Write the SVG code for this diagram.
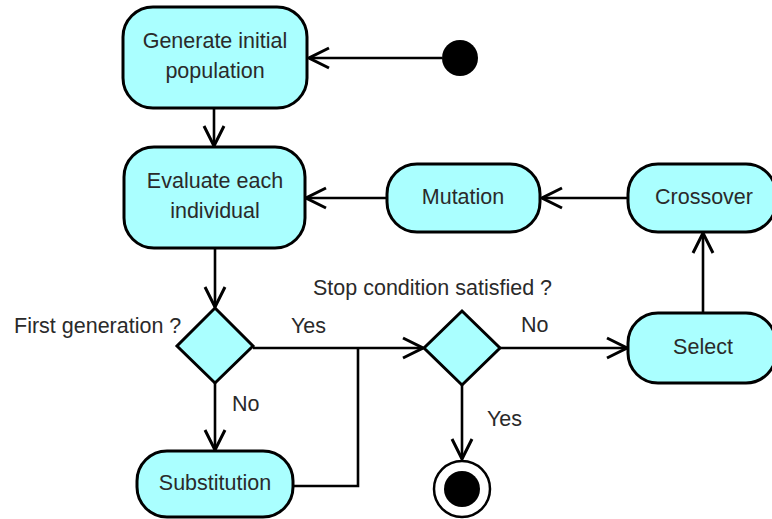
<svg xmlns="http://www.w3.org/2000/svg" width="772" height="519" viewBox="0 0 772 519">
<defs>
<marker id="arr" viewBox="0 0 24 24" markerWidth="24" markerHeight="24" refX="22" refY="12" orient="auto" markerUnits="userSpaceOnUse">
<path d="M2,2 L22,12 L2,22" fill="none" stroke="#000" stroke-width="3"/>
</marker>
<style>
.n{fill:#aaffff;stroke:#000;stroke-width:3}
.t{font-family:"Liberation Sans",Arial,sans-serif;font-size:21.5px;fill:#2a2a2a}
.c{text-anchor:middle}
.e{fill:none;stroke:#000;stroke-width:2.6}
</style>
</defs>
<rect width="772" height="519" fill="#fff"/>
<g id="connectors">
<path class="e" d="M442,58 L309,58" marker-end="url(#arr)"/>
<path class="e" d="M214,108 L214,146" marker-end="url(#arr)"/>
<path class="e" d="M628,198 L542,198" marker-end="url(#arr)"/>
<path class="e" d="M387,198 L306,198" marker-end="url(#arr)"/>
<path class="e" d="M215,248 L215,307" marker-end="url(#arr)"/>
<path class="e" d="M703,313 L703,233" marker-end="url(#arr)"/>
<path class="e" d="M253,348 L423,348" marker-end="url(#arr)"/>
<path class="e" d="M293,486 L358,486 L358,348"/>
<path class="e" d="M500,348 L627,348" marker-end="url(#arr)"/>
<path class="e" d="M215,383 L215,450" marker-end="url(#arr)"/>
<path class="e" d="M462,385 L462,459" marker-end="url(#arr)"/>
</g>
<g id="start"><circle cx="460" cy="58" r="18" fill="#000"/></g>
<g id="generate"><rect class="n" x="123" y="7" width="184" height="101" rx="30"/><text class="t c" x="215" y="48">Generate initial</text><text class="t c" x="215" y="78">population</text></g>
<g id="evaluate"><rect class="n" x="124" y="147" width="181" height="101" rx="30"/><text class="t c" x="215" y="188">Evaluate each</text><text class="t c" x="215" y="218">individual</text></g>
<g id="mutation"><rect class="n" x="387" y="164" width="153" height="68" rx="30"/><text class="t c" x="463" y="204">Mutation</text></g>
<g id="crossover"><rect class="n" x="628" y="164" width="148" height="68" rx="30"/><text class="t c" x="704" y="204">Crossover</text></g>
<g id="select"><rect class="n" x="628" y="313" width="148" height="70" rx="30"/><text class="t c" x="703" y="354">Select</text></g>
<g id="firstgen"><path class="n" d="M215,308 L253,346 L215,383 L177,346 Z"/><text class="t" x="14" y="333">First generation ?</text></g>
<g id="stopcond"><path class="n" d="M462,311 L500,348 L462,385 L424,348 Z"/><text class="t" x="313" y="295">Stop condition satisfied ?</text></g>
<g id="substitution"><rect class="n" x="137" y="451" width="156" height="66" rx="30"/><text class="t c" x="215" y="490">Substitution</text></g>
<g id="end"><circle cx="462" cy="489" r="28" fill="#fff" stroke="#000" stroke-width="2.5"/><circle cx="462" cy="489" r="18" fill="#000"/></g>
<g id="labels">
<text class="t" x="291" y="333">Yes</text>
<text class="t" x="521" y="332">No</text>
<text class="t" x="232" y="411">No</text>
<text class="t" x="487" y="426">Yes</text>
</g>
</svg>
